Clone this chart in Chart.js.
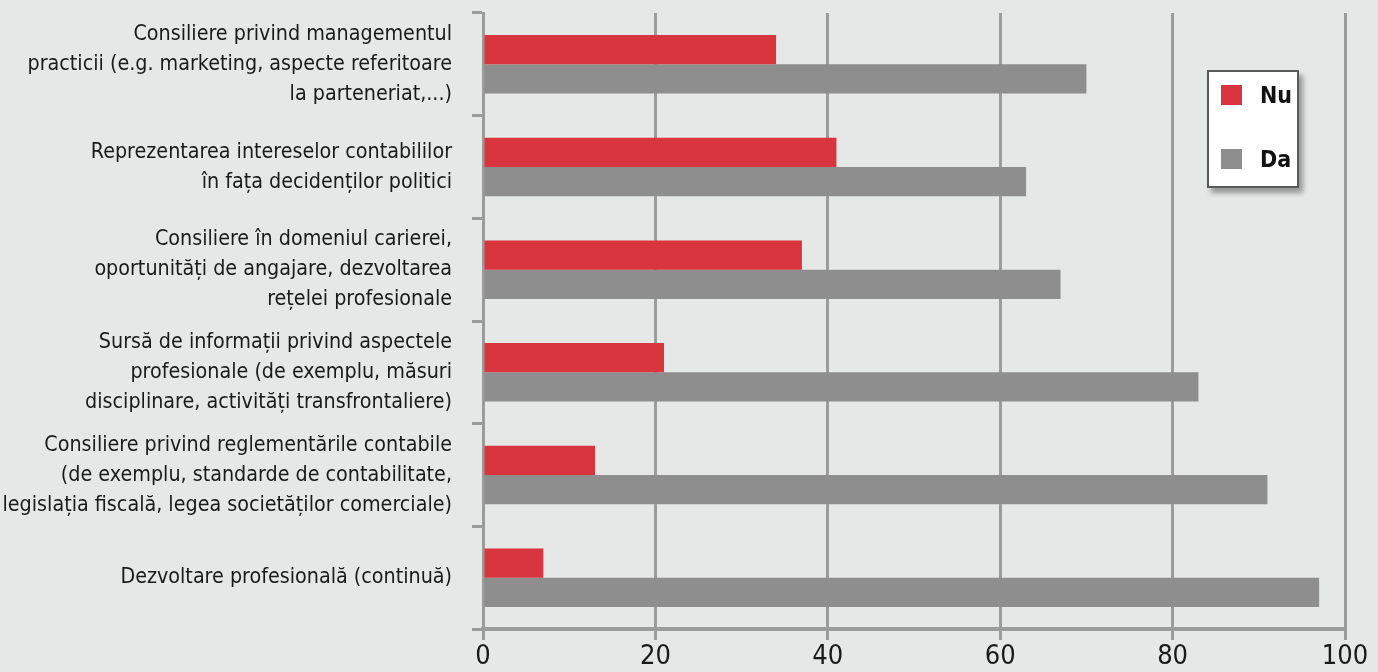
<!DOCTYPE html>
<html>
<head>
<meta charset="utf-8">
<script src="https://cdn.jsdelivr.net/npm/chart.js@4"></script>
<style>
  html, body { margin:0; padding:0; background:#e6e7e7; }
  #wrap { position:relative; width:1378px; height:672px; }
  #legend { position:absolute; left:1207px; top:70px; width:88px; height:114px;
    background:#fff; border:2px solid #5a5a5a; box-shadow:4px 5px 5px rgba(0,0,0,0.35);
    font-family:"Liberation Sans Narrow","DejaVu Sans Condensed","Liberation Sans",sans-serif; }
  .li { position:absolute; left:12px; height:22px; display:flex; align-items:center; }
  .sw { width:21px; height:20px; margin-right:18px; }
  .lt { font-weight:bold; font-size:23px; color:#111; }
</style>
</head>
<body>
<div id="wrap">
  <canvas id="c" width="1378" height="672"></canvas>
  <div id="legend"></div>
</div>
<script>
const categories = [
  ["Consiliere privind managementul", "practicii (e.g. marketing, aspecte referitoare", "la parteneriat,...)"],
  ["Reprezentarea intereselor contabililor", "în fața decidenților politici"],
  ["Consiliere în domeniul carierei,", "oportunități de angajare, dezvoltarea", "rețelei profesionale"],
  ["Sursă de informații privind aspectele", "profesionale (de exemplu, măsuri", "disciplinare, activități transfrontaliere)"],
  ["Consiliere privind reglementările contabile", "(de exemplu, standarde de contabilitate,", "legislația fiscală, legea societăților comerciale)"],
  ["Dezvoltare profesională (continuă)"]
];
const nuValues = [34, 41, 37, 21, 13, 7];
const daValues = [70, 63, 67, 83, 91, 97];
const seriesNames = ["Nu", "Da"];
const xTicks = [0, 20, 40, 60, 80, 100];

const FONT = '"Liberation Sans Narrow","DejaVu Sans Condensed","Liberation Sans",sans-serif';
const RED = '#d9353f';
const GRAY = '#8e8e8e';
const AXIS = '#9b9b9b';

const chart = new Chart(document.getElementById('c'), {
  type: 'bar',
  data: {
    labels: categories,
    datasets: [
      { label: seriesNames[0], data: nuValues, backgroundColor: RED },
      { label: seriesNames[1], data: daValues, backgroundColor: GRAY }
    ]
  },
  options: {
    indexAxis: 'y',
    responsive: false,
    animation: false,
    devicePixelRatio: 1,
    categoryPercentage: 0.57,
    barPercentage: 1.0,
    layout: { padding: { top: 13, right: 33, left: 0, bottom: 0 } },
    plugins: { legend: { display: false }, tooltip: { enabled: false } },
    scales: {
      x: {
        min: 0, max: 100,
        afterBuildTicks: (s) => { s.ticks = xTicks.map(v => ({ value: v })); },
        afterFit: (s) => { s.height = 43; s.paddingLeft = 0; s.paddingRight = 0; },
        grid: { color: AXIS, lineWidth: 3, tickLength: 11, drawTicks: true },
        border: { display: true, color: AXIS, width: 4 },
        ticks: { color: '#1a1a1a', font: { family: FONT, size: 27 }, padding: 1 }
      },
      y: {
        afterFit: (s) => { s.width = 483; s.paddingTop = 0; s.paddingBottom = 0; },
        grid: { display: true, drawOnChartArea: false, drawTicks: true, tickLength: 11, color: AXIS, lineWidth: 3, offset: true },
        border: { display: true, color: AXIS, width: 3 },
        ticks: { color: '#1a1a1a', font: { family: FONT, size: 21.3, lineHeight: 1.41 }, padding: 20 }
      }
    }
  }
});

// Legend built from the chart's datasets
const lg = document.getElementById('legend');
chart.data.datasets.forEach((ds, i) => {
  const d = document.createElement('div');
  d.className = 'li';
  d.style.top = (12 + i * 64) + 'px';
  d.innerHTML = '<div class="sw" style="background:' + ds.backgroundColor + '"></div><span class="lt">' + ds.label + '</span>';
  lg.appendChild(d);
});
</script>
</body>
</html>
